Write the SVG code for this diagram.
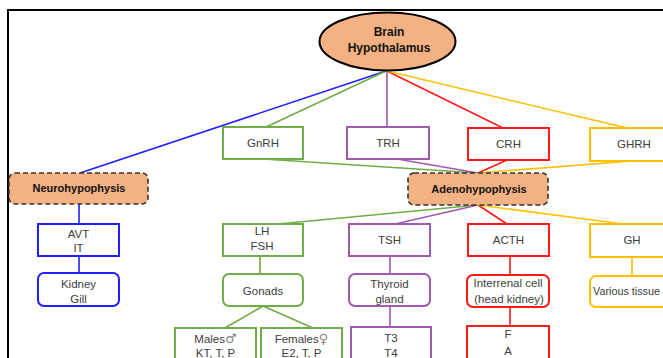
<svg xmlns="http://www.w3.org/2000/svg" width="663" height="358" viewBox="0 0 663 358">
<style>
.t{font-family:"Liberation Sans",Arial,sans-serif;font-size:11.5px;fill:#404040;text-anchor:middle}
.b{font-family:"Liberation Sans",Arial,sans-serif;font-size:11px;font-weight:bold;fill:#111;text-anchor:middle}
.sym{font-family:"DejaVu Sans",sans-serif;font-size:13px;fill:#888}
.box{fill:#fff;stroke-width:2}
.pit{fill:#F4B183;stroke:#333;stroke-width:1.6;stroke-dasharray:5 3}
.bl{stroke:#1f1fff}.gr{stroke:#70AD47}.pu{stroke:#A05AB0}.rd{stroke:#FF1A1A}.ye{stroke:#FFC000}
#connectors path{fill:none;stroke-width:1.6}
</style>
<rect width="663" height="358" fill="#fff"/>
<rect x="8" y="10" width="670" height="360" fill="none" stroke="#000" stroke-width="2"/>
<g id="connectors">
<path class="bl" d="M386,71 L80,173"/>
<path class="gr" d="M386,71 L266,127"/>
<path class="pu" d="M387,71 L387,127"/>
<path class="rd" d="M387,71 L503,128"/>
<path class="ye" d="M387,71 L627,128"/>
<path class="gr" d="M263,159 L478,173"/>
<path class="pu" d="M397,159 L478,173"/>
<path class="rd" d="M507,160 L478,173"/>
<path class="ye" d="M632,161 L478,173"/>
<path class="gr" d="M478,205 L278,224"/>
<path class="pu" d="M478,205 L395,224"/>
<path class="rd" d="M478,205 L507,224"/>
<path class="ye" d="M478,205 L623,224"/>
<path class="bl" d="M79,204 L79,224 M79,256 L79,273"/>
<path class="gr" d="M260,256 L260,274 M263,306 L225,328 M263,306 L313,328"/>
<path class="pu" d="M390,256 L390,274 M390,306 L390,327"/>
<path class="rd" d="M510,256 L510,275 M510,307 L510,326"/>
<path class="ye" d="M632,257 L632,276"/>
</g>
<g id="brain">
<ellipse cx="387.5" cy="41.5" rx="68" ry="29" fill="#F4B183" stroke="#000" stroke-width="2"/>
<text class="b" x="389" y="36" style="font-size:12px">Brain</text>
<text class="b" x="389" y="52" style="font-size:12px">Hypothalamus</text>
</g>
<g id="gnrh"><rect class="box gr" x="223" y="127" width="80" height="32"/><text class="t" x="263" y="147">GnRH</text></g>
<g id="trh"><rect class="box pu" x="347" y="127" width="82" height="32"/><text class="t" x="388" y="147">TRH</text></g>
<g id="crh"><rect class="box rd" x="468" y="128" width="81" height="32"/><text class="t" x="508.5" y="148">CRH</text></g>
<g id="ghrh"><rect class="box ye" x="590" y="128" width="86" height="33"/><text class="t" x="634" y="148">GHRH</text></g>
<g id="neurohypophysis"><rect class="pit" x="9" y="173" width="139" height="31" rx="6"/><text class="b" x="79" y="192">Neurohypophysis</text></g>
<g id="adenohypophysis"><rect class="pit" x="408" y="173" width="140" height="32" rx="6"/><text class="b" x="479" y="193">Adenohypophysis</text></g>
<g id="avt"><rect class="box bl" x="38" y="224" width="81" height="32"/><text class="t" x="78.5" y="238">AVT</text><text class="t" x="78.5" y="252">IT</text></g>
<g id="lhfsh"><rect class="box gr" x="223" y="224" width="80" height="32"/><text class="t" x="262" y="235">LH</text><text class="t" x="262" y="250">FSH</text></g>
<g id="tsh"><rect class="box pu" x="349" y="224" width="81" height="32"/><text class="t" x="389.5" y="244">TSH</text></g>
<g id="acth"><rect class="box rd" x="468" y="224" width="81" height="32"/><text class="t" x="508.5" y="244">ACTH</text></g>
<g id="gh"><rect class="box ye" x="590" y="224" width="86" height="33"/><text class="t" x="632" y="244">GH</text></g>
<g id="kidney"><rect class="box bl" x="38" y="273" width="81" height="33" rx="6"/><text class="t" x="78.5" y="288">Kidney</text><text class="t" x="78.5" y="303">Gill</text></g>
<g id="gonads"><rect class="box gr" x="223" y="274" width="80" height="32" rx="6"/><text class="t" x="263" y="295">Gonads</text></g>
<g id="thyroid"><rect class="box pu" x="349" y="274" width="81" height="32" rx="6"/><text class="t" x="389.5" y="288">Thyroid</text><text class="t" x="389.5" y="303">gland</text></g>
<g id="interrenal"><rect class="box rd" x="467" y="275" width="82" height="32" rx="6"/><text class="t" x="508" y="287">Interrenal cell</text><text class="t" x="509" y="303">(head kidney)</text></g>
<g id="various"><rect class="box ye" x="590" y="276" width="90" height="31" rx="6"/><text class="t" x="593" y="295" style="text-anchor:start;font-size:10.8px">Various tissue</text></g>
<g id="males"><rect class="box gr" x="175" y="328" width="81" height="40"/><text class="t" x="215.5" y="343">Males<tspan class="sym">♂</tspan></text><text class="t" x="215.5" y="357">KT, T, P</text></g>
<g id="females"><rect class="box gr" x="261" y="328" width="81" height="40"/><text class="t" x="301.5" y="343">Females<tspan class="sym">♀</tspan></text><text class="t" x="301.5" y="357">E2, T, P</text></g>
<g id="t3t4"><rect class="box pu" x="351" y="327" width="80" height="40"/><text class="t" x="391" y="342">T3</text><text class="t" x="391" y="357">T4</text></g>
<g id="fa"><rect class="box rd" x="467" y="326" width="82" height="40"/><text class="t" x="508" y="338">F</text><text class="t" x="508" y="355">A</text></g>
</svg>
